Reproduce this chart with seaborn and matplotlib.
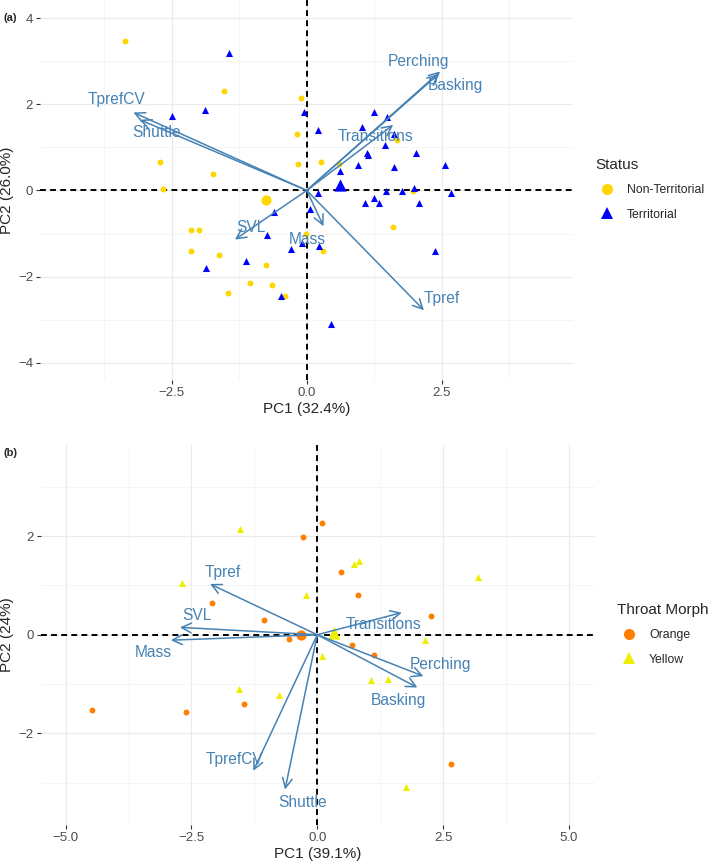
import numpy as np
import pandas as pd
import matplotlib
matplotlib.use("Agg")
import matplotlib.pyplot as plt
import seaborn as sns
from matplotlib.lines import Line2D

sns.set_style("white")
plt.rcParams["font.family"] = ["Liberation Sans", "DejaVu Sans"]

# ---- panel (a): territorial status ----
nt_pc1 = [-3.36, -1.53, -0.10, -0.19, -2.72, -1.73, -0.16, 0.26, -2.66, 0.60, 1.68, 1.96,
          1.59, 0.30, -0.01, -2.14, -1.99, -2.14, -1.63, -0.76, -1.05, -0.65, -1.46, -0.40]
nt_pc2 = [3.46, 2.31, 2.15, 1.31, 0.67, 0.38, 0.61, 0.66, 0.04, 0.62, 1.17, -0.02,
          -0.84, -1.40, -1.00, -0.92, -0.93, -1.40, -1.51, -1.74, -2.14, -2.20, -2.37, -2.44]
t_pc1 = [-1.44, -2.49, -1.88, -0.06, 0.21, 0.61, 0.95, 0.21, 1.25, 1.48, 1.03, 1.62, 1.44,
         1.11, 1.14, 2.03, 1.61, 2.56, 1.46, 1.77, 1.99, 2.67, 1.08, 1.25, 1.34, 2.07, 2.37,
         0.45, 0.23, 0.06, -0.09, -0.61, -0.74, -0.30, -1.12, -1.87, -0.48]
t_pc2 = [3.20, 1.72, 1.86, 1.81, 1.41, 0.45, 0.60, -0.05, 1.83, 1.70, 1.48, 1.31, 1.06,
         0.88, 0.83, 0.87, 0.54, 0.60, -0.02, -0.02, 0.05, -0.05, -0.29, -0.18, -0.29, -0.29, -1.40,
         -3.10, -1.30, -0.42, -1.22, -0.49, -1.04, -1.36, -1.63, -1.81, -2.44]
a_vars = ["Perching", "Basking", "Transitions", "Tpref", "Mass", "SVL", "Shuttle", "TprefCV"]
a_load1 = [2.47, 2.44, 1.60, 2.17, 0.31, -1.33, -3.09, -3.21]
a_load2 = [2.76, 2.70, 1.52, -2.78, -0.83, -1.14, 1.64, 1.81]
a_lab1 = [2.07, 2.76, 1.28, 2.50, 0.00, -1.04, -2.79, -3.52]
a_lab2 = [3.00, 2.43, 1.25, -2.51, -1.14, -0.87, 1.34, 2.10]

# ---- panel (b): throat morph ----
or_pc1 = [0.09, -0.28, 0.48, -2.09, -1.05, -0.56, 0.80, 2.27, 0.69, 1.13, 2.65, -4.48, -2.60, -1.46]
or_pc2 = [2.26, 1.98, 1.28, 0.64, 0.30, -0.09, 0.80, 0.39, -0.20, -0.41, -2.62, -1.53, -1.57, -1.41]
ye_pc1 = [-1.54, -2.69, -0.22, 0.73, 0.83, 0.34, 3.19, 2.14, 0.09, 1.07, 1.40, 1.76, -1.56, -0.77]
ye_pc2 = [2.14, 1.05, 0.80, 1.43, 1.49, 0.10, 1.17, -0.11, -0.43, -0.91, -0.89, -3.08, -1.10, -1.22]
b_vars = ["Tpref", "SVL", "Mass", "Transitions", "Perching", "Basking", "TprefCV", "Shuttle"]
b_load1 = [-2.13, -2.73, -2.91, 1.68, 2.11, 1.99, -1.27, -0.64]
b_load2 = [1.03, 0.15, -0.11, 0.45, -0.84, -1.07, -2.76, -3.14]
b_lab1 = [-1.88, -2.39, -3.26, 1.31, 2.44, 1.62, -1.64, -0.30]
b_lab2 = [1.27, 0.39, -0.36, 0.20, -0.61, -1.34, -2.53, -3.41]

arrow_col = "steelblue"
tick_col = "#4D4D4D"

df_a = pd.DataFrame({
    "PC1": nt_pc1 + t_pc1,
    "PC2": nt_pc2 + t_pc2,
    "Status": ["Non-Territorial"] * len(nt_pc1) + ["Territorial"] * len(t_pc1),
})
df_b = pd.DataFrame({
    "PC1": or_pc1 + ye_pc1,
    "PC2": or_pc2 + ye_pc2,
    "Morph": ["Orange"] * len(or_pc1) + ["Yellow"] * len(ye_pc1),
})


def draw_panel(ax, df, group, palette, markers, vars_, l1, l2, t1, t2):
    ax.axhline(0, color="black", lw=1.4, ls=(0, (3, 2.2)), zorder=1)
    ax.axvline(0, color="black", lw=1.4, ls=(0, (3, 2.2)), zorder=1)
    sizes = {"o": 18, "^": 26}
    for lvl, col in palette.items():
        sub = df[df[group] == lvl]
        m = markers[lvl]
        sns.scatterplot(data=sub, x="PC1", y="PC2", color=col, marker=m, s=sizes[m],
                        linewidth=0, ax=ax, zorder=2, legend=False)
    # group centroids
    cent = df.groupby(group)[["PC1", "PC2"]].mean()
    for lvl, col in palette.items():
        m = markers[lvl]
        ax.scatter(cent.loc[lvl, "PC1"], cent.loc[lvl, "PC2"], color=col, marker=m,
                   s=sizes[m] * 3, linewidths=0, zorder=2)
    for v, x, y, tx, ty in zip(vars_, l1, l2, t1, t2):
        ax.annotate("", xy=(x, y), xytext=(0, 0),
                    arrowprops=dict(arrowstyle="->,head_length=0.5,head_width=0.25",
                                    color=arrow_col, lw=1.1, shrinkA=0, shrinkB=0,
                                    mutation_scale=14), zorder=3)
        ax.text(tx, ty, v, color=arrow_col, fontsize=11.2, ha="center", va="center", zorder=4)
    for s in ax.spines.values():
        s.set_visible(False)
    ax.grid(True, which="major", color="#EBEBEB", lw=0.9, zorder=0)
    ax.grid(True, which="minor", color="#F2F2F2", lw=0.5, zorder=0)
    ax.set_axisbelow(True)
    ax.tick_params(which="major", length=3, width=0.8, color="#333333",
                   labelcolor=tick_col, labelsize=9.5, pad=2, bottom=True, left=True)
    ax.tick_params(which="minor", length=0)


def lab(v, fmt):
    return (fmt % v).replace("-", "\u2212")


fig = plt.figure(figsize=(7.09, 8.63), dpi=100)

# panel (a)
ax1 = fig.add_axes([40 / 709, 1 - 380 / 863, 533 / 709, 380 / 863])
pal_a = {"Non-Territorial": "#FFD700", "Territorial": "#0000FF"}
mk_a = {"Non-Territorial": "o", "Territorial": "^"}
draw_panel(ax1, df_a, "Status", pal_a, mk_a, a_vars, a_load1, a_load2, a_lab1, a_lab2)
ax1.set_xlim(-4.94, 4.93)
ax1.set_ylim(-4.4, 4.42)
xt = [-2.5, 0, 2.5]
ax1.set_xticks(xt, [lab(v, "%.1f") for v in xt])
ax1.set_xticks([-3.75, -1.25, 1.25, 3.75], minor=True)
yt = [-4, -2, 0, 2, 4]
ax1.set_yticks(yt, [lab(v, "%d") for v in yt])
ax1.set_yticks([-3, -1, 1, 3], minor=True)
ax1.set_xlabel("PC1 (32.4%)", fontsize=11, labelpad=2)
ax1.set_ylabel("PC2 (26.0%)", fontsize=11, labelpad=3)
h_a = [Line2D([], [], ls="none", marker=mk_a[k], markerfacecolor=c, markeredgewidth=0,
              markersize=8) for k, c in pal_a.items()]
fig.legend(h_a, list(pal_a.keys()), title="Status", loc="upper left",
           bbox_to_anchor=(575 / 709, 1 - 138 / 863), frameon=False, fontsize=8.8,
           title_fontsize=11, alignment="left", handletextpad=0.6, labelspacing=1.0,
           borderpad=1.15)
fig.text(4 / 709, 1 - 18 / 863, "(a)", fontsize=8, weight="bold", va="center")

# panel (b)
ax2 = fig.add_axes([40.5 / 709, 1 - 825 / 863, 554.5 / 709, 380 / 863])
pal_b = {"Orange": "#FF7F00", "Yellow": "#EEEE00"}
mk_b = {"Orange": "o", "Yellow": "^"}
draw_panel(ax2, df_b, "Morph", pal_b, mk_b, b_vars, b_load1, b_load2, b_lab1, b_lab2)
ax2.set_xlim(-5.5, 5.52)
ax2.set_ylim(-3.86, 3.85)
xt = [-5, -2.5, 0, 2.5, 5]
ax2.set_xticks(xt, [lab(v, "%.1f") for v in xt])
ax2.set_xticks([-3.75, -1.25, 1.25, 3.75], minor=True)
yt = [-2, 0, 2]
ax2.set_yticks(yt, [lab(v, "%d") for v in yt])
ax2.set_yticks([-3, -1, 1, 3], minor=True)
ax2.set_xlabel("PC1 (39.1%)", fontsize=11, labelpad=2)
ax2.set_ylabel("PC2 (24%)", fontsize=11, labelpad=3)
h_b = [Line2D([], [], ls="none", marker=mk_b[k], markerfacecolor=c, markeredgewidth=0,
              markersize=8) for k, c in pal_b.items()]
fig.legend(h_b, list(pal_b.keys()), title="Throat Morph", loc="upper left",
           bbox_to_anchor=(597 / 709, 1 - 583 / 863), frameon=False, fontsize=8.8,
           title_fontsize=11, alignment="left", handletextpad=0.6, labelspacing=1.0,
           borderpad=1.15)
fig.text(4 / 709, 1 - 453 / 863, "(b)", fontsize=8, weight="bold", va="center")

fig.savefig("out.png", dpi=100)
